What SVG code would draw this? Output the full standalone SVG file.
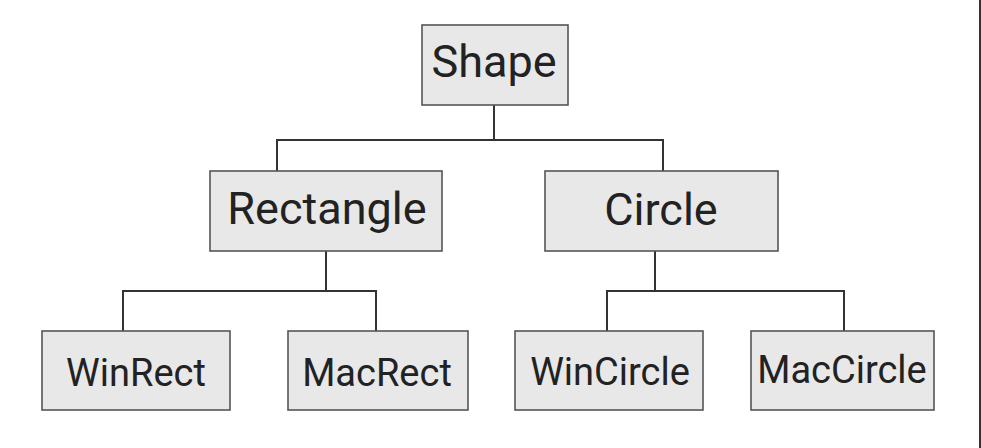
<svg xmlns="http://www.w3.org/2000/svg" width="981" height="448" viewBox="0 0 981 448">
<style>
.box{fill:#e8e8e8;stroke:#555;stroke-width:1.6}
.t1{font-family:Roboto,"Liberation Sans",sans-serif;font-weight:400;font-size:45px;fill:#222;text-anchor:middle}
.t2{font-family:Roboto,"Liberation Sans",sans-serif;font-weight:400;font-size:38px;fill:#222;text-anchor:middle}
.c{fill:none;stroke:#333;stroke-width:2}
</style>
<rect width="981" height="448" fill="#fff"/>
<line x1="980" y1="0" x2="980" y2="448" stroke="#333" stroke-width="2"/>
<g id="connectors">
<polyline class="c" points="277,172 277,140 663,140 663,172"/>
<line class="c" x1="494" y1="105" x2="494" y2="140"/>
<polyline class="c" points="123,331 123,291 376,291 376,331"/>
<line class="c" x1="326" y1="251" x2="326" y2="291"/>
<polyline class="c" points="607,331 607,291 844,291 844,331"/>
<line class="c" x1="655" y1="251" x2="655" y2="291"/>
</g>
<g id="shape"><rect class="box" x="422" y="25" width="146" height="80"/><text class="t1" x="494" y="77">Shape</text></g>
<g id="rectangle"><rect class="box" x="210" y="171" width="232" height="80"/><text class="t1" x="327" y="224">Rectangle</text></g>
<g id="circle"><rect class="box" x="545" y="171" width="233" height="80"/><text class="t1" x="661" y="225">Circle</text></g>
<g id="winrect"><rect class="box" x="42" y="331" width="188" height="79"/><text class="t2" x="136" y="386">WinRect</text></g>
<g id="macrect"><rect class="box" x="288" y="331" width="180" height="79"/><text class="t2" x="377" y="386">MacRect</text></g>
<g id="wincircle"><rect class="box" x="515" y="331" width="188" height="79"/><text class="t2" x="610" y="385">WinCircle</text></g>
<g id="maccircle"><rect class="box" x="751" y="331" width="183" height="79"/><text class="t2" x="842" y="383">MacCircle</text></g>
</svg>
